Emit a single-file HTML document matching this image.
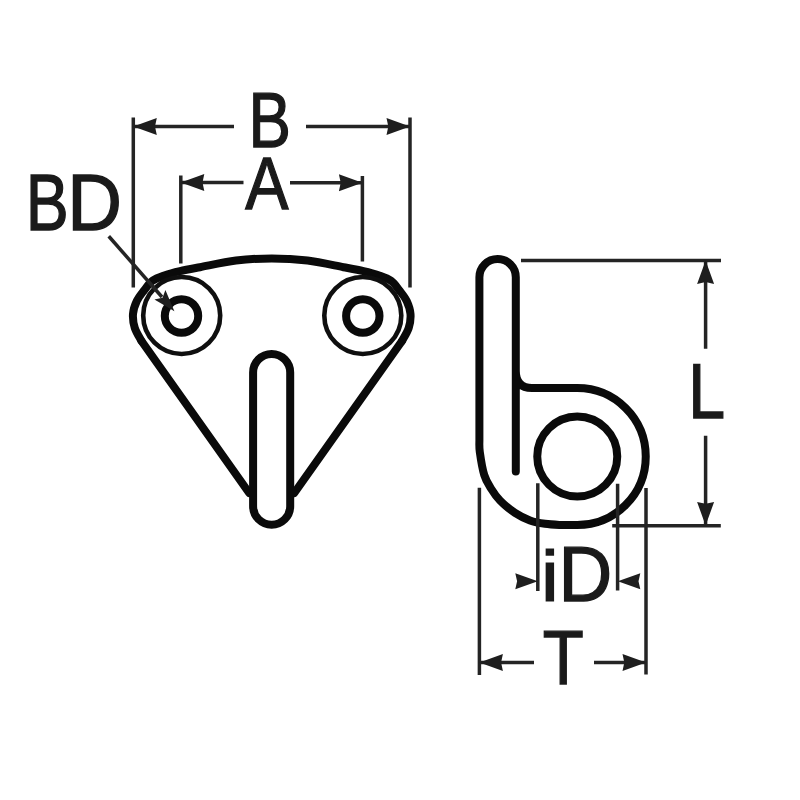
<!DOCTYPE html>
<html><head><meta charset="utf-8"><title>Hook dimensions</title>
<style>
html,body{margin:0;padding:0;background:#fff;}
svg{display:block;}
text{font-family:"Liberation Sans",sans-serif;fill:#1a1a1a;stroke:#1a1a1a;stroke-width:1.4;}
.thick{fill:none;stroke:#0a0a0a;stroke-width:8.0;stroke-linecap:round;stroke-linejoin:round;}
.thin{fill:none;stroke:#242424;stroke-width:3.5;}
.wash{fill:none;stroke:#0f0f0f;stroke-width:4.6;}
.ar{fill:#1e1e1e;stroke:none;}
</style></head><body>
<svg width="800" height="800" viewBox="0 0 800 800">
<rect width="800" height="800" fill="#fff"/>

<!-- front view -->
<g id="front">
  <path class="thick" d="M402.00 341.00 C403.12 338.83 407.28 332.50 408.70 328.00 C410.12 323.50 410.83 318.50 410.50 314.00 C410.17 309.50 408.50 304.87 406.70 301.00 C404.90 297.13 402.32 294.17 399.70 290.80 C397.08 287.43 394.53 283.38 391.00 280.80 C387.47 278.22 383.08 276.90 378.50 275.30 C373.92 273.70 369.33 272.55 363.50 271.20 C357.67 269.85 352.83 268.98 343.50 267.20 C334.17 265.42 319.46 261.97 307.50 260.50 C295.54 259.03 283.67 258.40 271.75 258.40 C259.83 258.40 247.96 259.03 236.00 260.50 C224.04 261.97 209.33 265.42 200.00 267.20 C190.67 268.98 185.83 269.85 180.00 271.20 C174.17 272.55 169.58 273.70 165.00 275.30 C160.42 276.90 156.03 278.22 152.50 280.80 C148.97 283.38 146.42 287.43 143.80 290.80 C141.18 294.17 138.60 297.13 136.80 301.00 C135.00 304.87 133.33 309.50 133.00 314.00 C132.67 318.50 133.38 323.50 134.80 328.00 C136.22 332.50 140.38 338.83 141.50 341.00"/>
  <path class="thick" d="M141.5 341 L249.2 493 M402.00 341 L294.30 493"/>
  <circle cx="181.7" cy="315.5" r="38.5" class="wash"/>
  <circle cx="362.8" cy="315.5" r="38.5" class="wash"/>
  <circle cx="181.5" cy="316" r="16.7" class="thick"/>
  <circle cx="362.8" cy="316" r="16.7" class="thick"/>
  <rect x="253.1" y="354" width="37.1" height="170.7" rx="18.55" class="thick" style="fill:#fff"/>
</g>

<!-- B dimension -->
<path class="thin" d="M133.3 117.5V287.5 M410 117.5V287.5 M133.3 126.5H234 M306 126.5H410"/>
<path class="ar" d="M133.30 126.50L156.80 118.00L155.00 126.50L156.80 135.00z M410.00 126.50L386.50 135.00L388.30 126.50L386.50 118.00z"/>
<text transform="matrix(0.7955 0 0 0.9825 248.48 147.27)" font-size="80">B</text>
<!-- A dimension -->
<path class="thin" d="M180.8 175.6V263.5 M362.4 176V261.5 M180.8 182.5H243.5 M290 182.7H362.4"/>
<path class="ar" d="M180.80 182.50L204.30 174.00L202.50 182.50L204.30 191.00z M362.40 182.70L338.90 191.20L340.70 182.70L338.90 174.20z"/>
<text transform="matrix(0.8109 0 0 0.9368 245.31 208.56)" font-size="80">A</text>
<!-- BD -->
<text transform="matrix(0.8045 0 0 0.9895 25.87 230.01)" font-size="80">B</text><text transform="matrix(0.9469 0 0 0.9895 67.22 230.01)" font-size="80">D</text>
<path class="thin" d="M108.75 236.25L162 297"/>
<path class="ar" d="M174.40 311.25L154.42 299.50L162.54 297.71L165.40 289.89z"/>

<!-- side view -->
<g id="side">
  <path class="thick" d="M515.8 471.5 V277.2 A18.2 18.2 0 0 0 479.4 277.2 V440  C479.47 442.00 478.99 446.17 479.80 452.00 C480.61 457.83 482.38 468.92 484.25 475.00 C486.12 481.08 488.38 484.25 491.00 488.50 C493.62 492.75 496.00 496.43 500.00 500.50 C504.00 504.57 510.00 509.58 515.00 512.90 C520.00 516.22 525.00 518.58 530.00 520.40 C535.00 522.22 540.00 523.05 545.00 523.80 C550.00 524.55 554.62 524.70 560.00 524.90 C565.38 525.10 574.38 524.98 577.25 525.00 A68.5 68.5 0 0 0 645.75 456.5 A68.5 68.5 0 0 0 577.25 388 H532 Q515.8 388 515.8 371"/>
  <circle cx="577.25" cy="456.5" r="40" class="thick"/>
</g>
<!-- L dimension -->
<path class="thin" d="M521 260.4H721 M612.2 525.7H720.8 M705.6 260V348.8 M705.6 435.7V525"/>
<path class="ar" d="M705.60 260.40L714.10 283.90L705.60 282.10L697.10 283.90z M705.60 525.50L697.10 502.00L705.60 503.80L714.10 502.00z"/>
<text transform="matrix(0.8284 0 0 0.9649 688.13 418.44)" font-size="80">L</text>
<!-- iD dimension -->
<path class="thin" d="M537.8 483.2V591 M617.6 483.8V590.5"/>
<path class="ar" d="M537.80 581.30L515.30 589.30L517.10 581.30L515.30 573.30z M617.80 581.30L640.30 573.30L638.50 581.30L640.30 589.30z"/>
<text transform="matrix(1.0000 0 0 0.8917 541.00 600.61)" font-size="80">i</text><text transform="matrix(0.9306 0 0 0.9649 558.42 601.04)" font-size="80">D</text>
<!-- T dimension -->
<path class="thin" d="M479.4 487.7V675 M646 488V674.5 M479.4 662.5H534 M594 662.5H646"/>
<path class="ar" d="M479.40 662.50L502.90 654.00L501.10 662.50L502.90 671.00z M646.00 662.50L622.50 671.00L624.30 662.50L622.50 654.00z"/>
<text transform="matrix(0.8383 0 0 0.9474 542.76 684.05)" font-size="80">T</text>
</svg>
</body></html>
